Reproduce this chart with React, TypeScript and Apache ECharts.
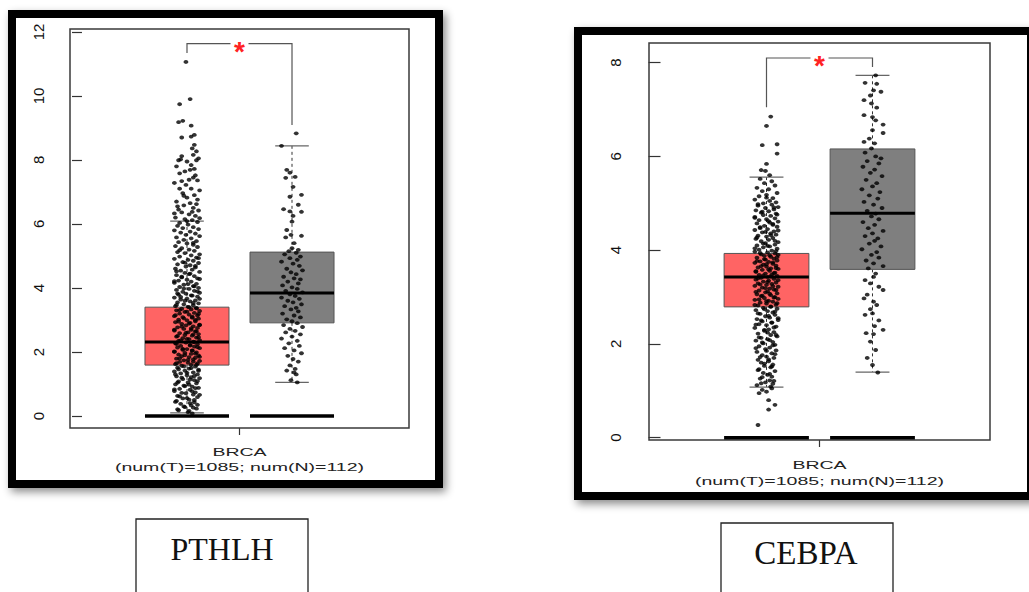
import React, { useEffect, useRef } from "react";
import * as echarts from "echarts";

// ---------- data ----------
const groups = ["Tumor", "Normal"];
const cohortLabel = "BRCA";
const cohortCounts = "(num(T)=1085; num(N)=112)";
const geneNames = ["PTHLH", "CEBPA"];

// [x, lowerWhisker, Q1, median, Q3, upperWhisker]
const pthlhBoxes = [
  [1, 0.1, 1.59, 2.31, 3.4, 6.09],
  [2, 1.05, 2.91, 3.84, 5.12, 8.44],
];
const cebpaBoxes = [
  [1, 1.08, 2.79, 3.43, 3.93, 5.56],
  [2, 1.4, 3.59, 4.79, 6.16, 7.73],
];
// [xLeft, yLeftEnd, yTop, xRight, yRightEnd]
const pthlhBracket = [[1, 11.34, 11.63, 2, 9.09]];
const cebpaBracket = [[1, 7.05, 8.1, 2, 7.91]];
const pthlhTicks = [0, 2, 4, 6, 8, 10, 12];
const cebpaTicks = [0, 2, 4, 6, 8];
const floorValue = 0;

// jittered samples: [jitter, expression]
const pthlhTumor = [
  [-0.01,11.06],[0.03,9.9],[-0.07,9.74],[-0.04,9.22],[-0.08,9.18],[0.04,9.07],[0.07,8.78],[0.04,8.73],[-0.05,8.7],[0.07,8.47],[0.05,8.36],[0.09,8.27],[0.06,8.16],[-0.05,8.12],[-0.08,7.99],[0.0,7.95],[0.09,7.99],[0.04,7.84],[0.03,7.69],[-0.02,7.64],[-0.07,7.58],[0.08,7.52],[0.02,7.38],[-0.05,7.34],[0.1,7.36],[-0.01,7.22],[0.04,7.1],[-0.07,7.1],[-0.04,6.96],[0.07,6.9],[0.0,6.82],[0.1,6.76],[-0.1,6.7],[0.03,6.65],[-0.03,6.58],[0.06,6.5],[-0.08,6.45],[0.11,6.42],[-0.05,6.36],[0.02,6.3],[0.08,6.25],[-0.11,6.2],[-0.02,6.15],[0.05,6.12],[0.1,6.06],[-0.07,6.03],
  [0.11,8.05],[-0.1,7.8],[0.06,7.45],[-0.12,7.28],[0.12,7.05],[-0.03,6.88],[0.09,6.62],[-0.09,6.55],[0.05,6.38],[-0.12,6.33],[0.12,6.18],[0.0,6.09],[0.07,7.72],[-0.06,8.02],
  [0.01,5.98],[-0.09,5.94],[0.06,5.9],[-0.04,5.87],[0.11,5.84],[-0.12,5.8],[0.03,5.76],[-0.06,5.73],[0.08,5.7],[-0.01,5.66],[0.12,5.62],[-0.1,5.58],[0.04,5.55],[-0.03,5.5],[0.09,5.46],[-0.08,5.43],[0.0,5.39],[0.06,5.35],[-0.11,5.31],[0.1,5.28],[-0.05,5.24],[0.02,5.2],[0.07,5.16],[-0.09,5.12],[-0.02,5.09],[0.12,5.05],[0.04,5.02],
  [-0.07,4.98],[0.09,4.95],[-0.12,4.91],[0.01,4.88],[0.06,4.85],[-0.04,4.81],[0.11,4.78],[-0.09,4.74],[0.03,4.71],[-0.01,4.67],[0.08,4.64],[-0.11,4.6],[0.05,4.57],[-0.06,4.54],[0.12,4.5],[-0.02,4.47],[0.02,4.43],[-0.1,4.4],[0.07,4.37],[-0.05,4.33],[0.1,4.3],[0.0,4.26],[-0.08,4.23],[0.04,4.2],[-0.12,4.16],[0.09,4.13],[-0.03,4.1],[0.06,4.06],[-0.07,4.03],[0.11,4.0],
  [0.02,3.97],[-0.1,3.94],[0.07,3.91],[-0.04,3.88],[0.12,3.85],[-0.01,3.82],[-0.08,3.79],[0.05,3.76],[0.1,3.73],[-0.12,3.7],[0.0,3.67],[-0.06,3.64],[0.08,3.61],[0.03,3.58],[-0.09,3.55],[0.11,3.52],[-0.03,3.49],[0.06,3.46],[-0.11,3.43],[0.01,3.41],
  [0.09,3.38],[-0.05,3.35],[0.04,3.33],[-0.1,3.3],[0.12,3.28],[-0.02,3.25],[0.07,3.22],[-0.07,3.2],[0.02,3.17],[0.1,3.14],[-0.12,3.12],[-0.04,3.09],[0.05,3.07],[0.11,3.04],[-0.08,3.01],[0.0,2.99],[0.08,2.96],[-0.11,2.93],[0.03,2.91],[-0.05,2.88],[0.12,2.85],[-0.01,2.83],[0.06,2.8],[-0.09,2.77],[0.1,2.75],[-0.03,2.72],[0.04,2.69],[-0.12,2.67],[0.08,2.64],[0.01,2.61],[-0.07,2.59],[0.11,2.56],[-0.02,2.53],[0.05,2.51],[-0.1,2.48],[0.09,2.45],[-0.04,2.43],[0.02,2.4],[0.12,2.37],[-0.08,2.35],[0.06,2.32],
  [-0.01,2.29],[-0.11,2.27],[0.1,2.24],[0.03,2.22],[-0.06,2.19],[0.07,2.17],[-0.09,2.14],[0.12,2.12],[0.0,2.09],[-0.04,2.07],[0.05,2.04],[-0.12,2.02],[0.09,1.99],[-0.02,1.97],[0.04,1.94],[-0.08,1.92],[0.11,1.89],[-0.05,1.87],[0.02,1.84],[0.08,1.82],[-0.1,1.79],[0.06,1.77],[-0.03,1.74],[0.12,1.72],[-0.07,1.69],[0.01,1.67],[0.1,1.64],[-0.11,1.62],[0.04,1.6],
  [-0.05,1.57],[0.08,1.54],[-0.09,1.51],[0.02,1.48],[0.11,1.45],[-0.02,1.42],[-0.12,1.39],[0.06,1.36],[-0.06,1.33],[0.1,1.3],[0.0,1.27],[-0.1,1.24],[0.04,1.21],[0.12,1.18],[-0.04,1.15],[0.07,1.12],[-0.08,1.08],[0.01,1.05],[0.09,1.02],[-0.11,0.99],[-0.03,0.95],[0.05,0.92],[0.11,0.88],[-0.07,0.85],[0.03,0.82],[-0.12,0.78],[0.08,0.74],[-0.01,0.71],[0.06,0.67],[-0.09,0.63],[0.1,0.59],[-0.04,0.55],[0.02,0.51],[-0.1,0.47],[0.07,0.43],[-0.06,0.38],[0.04,0.33],[-0.02,0.28],[0.09,0.23],[-0.08,0.18],[0.01,0.12],[0.05,0.08],
  [0.06,5.41],[-0.07,5.18],[0.11,4.93],[-0.02,4.79],[0.08,4.69],[-0.1,4.52],[0.03,4.45],[-0.05,4.35],[0.12,4.28],[-0.12,4.21],[0.01,4.12],[0.07,4.05],[-0.03,3.98],[0.1,3.89],[-0.09,3.83],[0.04,3.77],[-0.06,3.72],[0.12,3.66],[-0.02,3.6],[0.06,3.53],[-0.1,3.47],[0.02,3.4],[0.09,3.36],[-0.07,3.31],[0.0,3.26],[0.11,3.19],[-0.11,3.15],[0.05,3.1],[-0.03,3.05],[0.08,3.0],[-0.08,2.95],[0.02,2.89],[0.12,2.84],[-0.05,2.79],[0.04,2.74],[-0.12,2.7],[0.09,2.65],[-0.01,2.6],[0.06,2.55],[-0.09,2.5],[0.11,2.46],[0.0,2.41],[-0.06,2.36],[0.07,2.31],[-0.1,2.25],[0.03,2.2],[0.1,2.15],[-0.04,2.1],[0.05,2.05],[-0.12,2.0],[0.08,1.95],[-0.02,1.9],[0.12,1.85],[-0.07,1.8],[0.01,1.75],[0.06,1.7],[-0.1,1.65],[0.09,1.6],[-0.03,1.55],[0.04,1.5],[-0.08,1.46],[0.11,1.41],[0.0,1.35],[-0.11,1.3],[0.07,1.25],[-0.05,1.2],[0.03,1.14],[0.1,1.09],[-0.09,1.04],[0.02,0.98],[-0.02,0.93],[0.08,0.87],[-0.12,0.83],[0.05,0.77],[-0.05,0.72],[0.12,0.66],[-0.07,0.61],[0.0,0.56],[0.07,0.5],[-0.11,0.44],[0.03,0.4],[0.1,0.35],[-0.03,0.3],[0.06,0.26],[-0.09,0.21],[0.02,0.16],
];
const pthlhNormal = [
  [0.04,8.83],[-0.1,8.44],[-0.05,7.69],[-0.02,7.6],[0.03,7.47],[-0.06,7.44],[0.01,7.16],[0.09,6.91],[-0.02,6.85],[0.06,6.6],[-0.08,6.46],[-0.02,6.39],[0.09,6.38],[0.01,6.25],[0.0,6.07],[-0.05,5.81],[-0.01,5.66],[0.09,5.63],[-0.06,5.58],[0.02,5.4],[0.0,5.24],[0.06,5.19],[-0.03,5.15],[0.04,5.1],[-0.07,5.05],[0.08,4.98],[-0.02,4.93],[0.05,4.88],[-0.1,4.82],[0.01,4.76],[0.07,4.69],[-0.05,4.6],[0.1,4.55],[-0.01,4.49],[0.04,4.43],[-0.08,4.35],[0.02,4.3],[0.08,4.27],[-0.04,4.2],[0.06,4.14],[-0.09,4.08],[0.0,4.02],[0.05,3.97],[-0.06,3.91],[0.1,3.86],[-0.02,3.8],[0.03,3.75],[-0.1,3.7],[0.07,3.66],[-0.04,3.6],[0.01,3.55],[0.09,3.49],[-0.07,3.43],[0.04,3.38],[-0.01,3.33],[0.06,3.27],[-0.09,3.2],[0.02,3.14],[0.08,3.08],[-0.05,3.02],[0.0,2.96],[0.05,2.9],[-0.08,2.84],[0.1,2.78],[-0.02,2.72],[0.03,2.66],[-0.06,2.61],[0.08,2.55],[0.0,2.48],[-0.1,2.42],[0.05,2.35],[-0.03,2.27],[0.07,2.19],[-0.07,2.12],[0.02,2.05],[0.09,1.96],[-0.04,1.88],[0.01,1.78],[0.06,1.7],[-0.02,1.58],[0.03,1.47],[-0.05,1.42],[0.02,1.36],[0.04,1.3],[-0.01,1.12],[0.05,1.05],
];
const cebpaTumor = [
  [0.04,6.85],[0.0,6.65],[-0.04,6.24],[0.1,6.26],[0.1,6.06],[0.0,5.84],[-0.05,5.71],[-0.01,5.69],[0.03,5.6],
  [-0.06,5.52],[0.05,5.47],[-0.02,5.43],[0.08,5.38],[-0.09,5.33],[0.02,5.3],[-0.04,5.26],[0.1,5.22],[0.0,5.18],[-0.07,5.15],[0.06,5.11],[-0.11,5.08],[0.03,5.05],[0.09,5.02],[-0.03,5.0],
  [0.05,4.97],[-0.08,4.95],[0.11,4.92],[-0.01,4.9],[0.07,4.87],[-0.1,4.85],[0.02,4.83],[-0.05,4.8],[0.09,4.78],[-0.03,4.75],[0.04,4.73],[-0.11,4.71],[0.08,4.68],[0.0,4.66],[-0.07,4.64],[0.11,4.61],[0.03,4.59],[-0.09,4.57],[0.06,4.54],[-0.02,4.52],[0.1,4.5],[-0.06,4.47],[0.01,4.45],[-0.11,4.43],[0.07,4.4],[-0.04,4.38],[0.04,4.36],[0.09,4.33],[-0.08,4.31],[0.0,4.29],[0.06,4.26],[-0.1,4.24],[0.02,4.22],[-0.05,4.19],[0.11,4.17],[-0.01,4.15],[0.08,4.12],[-0.09,4.1],[0.03,4.08],[-0.03,4.06],[0.1,4.03],[-0.07,4.01],
  [0.05,3.99],[-0.11,3.97],[0.01,3.95],[0.08,3.93],[-0.05,3.91],[0.11,3.9],[-0.02,3.88],[0.04,3.86],[-0.09,3.84],[0.07,3.82],[-0.01,3.8],[0.1,3.78],[-0.06,3.76],[0.02,3.75],[-0.11,3.73],[0.06,3.71],[-0.03,3.69],[0.09,3.67],[0.0,3.65],[-0.08,3.63],[0.04,3.61],[0.11,3.6],[-0.04,3.58],[0.03,3.56],[-0.1,3.54],[0.08,3.52],[-0.01,3.5],[0.05,3.48],[-0.07,3.47],[0.1,3.45],[0.01,3.43],[-0.05,3.41],
  [0.07,3.39],[-0.1,3.37],[0.02,3.35],[-0.03,3.33],[0.09,3.31],[-0.08,3.29],[0.05,3.28],[0.0,3.26],[-0.11,3.24],[0.11,3.22],[-0.04,3.2],[0.03,3.18],[0.07,3.16],[-0.07,3.14],[0.01,3.12],[-0.01,3.1],[0.1,3.08],[-0.09,3.06],[0.04,3.04],[-0.05,3.02],[0.08,3.0],[-0.02,2.98],[0.11,2.96],[-0.11,2.94],[0.02,2.92],[0.06,2.9],[-0.06,2.88],[0.0,2.86],[0.09,2.84],[-0.08,2.82],[0.04,2.8],
  [-0.03,2.77],[0.1,2.75],[-0.1,2.72],[0.01,2.7],[0.06,2.67],[-0.06,2.64],[0.08,2.62],[-0.01,2.59],[0.03,2.56],[-0.09,2.53],[0.11,2.51],[-0.04,2.48],[0.05,2.45],[-0.07,2.42],[0.0,2.4],[0.09,2.37],[-0.11,2.34],[0.02,2.31],[-0.02,2.28],[0.07,2.25],[-0.08,2.22],[0.04,2.19],[0.1,2.16],[-0.05,2.13],[0.01,2.1],[-0.1,2.07],[0.06,2.04],[-0.03,2.01],[0.08,1.98],[-0.07,1.95],[0.03,1.92],[-0.01,1.89],[0.09,1.86],[-0.09,1.83],[0.05,1.8],[-0.04,1.76],[0.0,1.73],[0.07,1.7],[-0.08,1.66],[0.02,1.63],[-0.05,1.6],[0.06,1.56],[-0.02,1.53],[0.04,1.5],[-0.07,1.46],[0.08,1.42],[-0.03,1.38],[0.01,1.34],[0.05,1.3],[-0.06,1.26],[0.03,1.22],[-0.01,1.18],[0.06,1.15],
  [-0.09,1.12],[0.04,1.09],[0.05,1.05],[-0.04,1.02],[0.0,0.98],[-0.07,0.95],[0.02,0.8],[0.08,0.7],[0.02,0.6],[-0.08,0.27],
  [0.0,5.12],[-0.08,4.98],[0.07,4.91],[-0.04,4.82],[0.1,4.76],[-0.11,4.69],[0.02,4.62],[0.06,4.56],[-0.06,4.49],[0.11,4.42],[-0.01,4.39],[0.04,4.32],[-0.09,4.27],[0.08,4.2],[-0.03,4.14],[0.01,4.09],[-0.11,4.04],[0.09,3.98],[-0.06,3.94],[0.03,3.89],[0.1,3.85],[-0.02,3.81],[-0.09,3.77],[0.06,3.74],[0.0,3.7],[-0.05,3.66],[0.09,3.62],[0.02,3.59],[-0.1,3.55],[0.07,3.51],[-0.03,3.46],[0.04,3.44],[-0.08,3.4],[0.11,3.36],[0.01,3.32],[-0.06,3.27],[0.06,3.23],[-0.01,3.19],[0.09,3.15],[-0.1,3.11],[0.03,3.07],[-0.04,3.03],[0.07,2.99],[-0.07,2.95],[0.0,2.91],[0.1,2.87],[-0.11,2.83],[0.04,2.79],[-0.02,2.74],[0.08,2.69],[-0.08,2.65],[0.02,2.6],[0.11,2.55],[-0.05,2.5],[0.05,2.46],[-0.1,2.41],[0.07,2.35],[-0.02,2.3],[0.01,2.24],[0.09,2.19],[-0.07,2.14],[0.03,2.08],[-0.04,2.03],[0.06,1.97],[-0.1,1.91],[0.0,1.85],[0.08,1.78],[-0.06,1.72],[0.02,1.67],[-0.02,1.58],[0.05,1.52],[-0.08,1.44],[0.03,1.36],[-0.04,1.29],[0.07,1.21],[-0.05,1.16],
];
const cebpaNormal = [
  [0.03,7.73],[-0.07,7.57],[0.04,7.55],[0.01,7.41],[0.08,7.38],[-0.02,7.3],[-0.08,7.2],[-0.01,7.13],[0.04,7.04],[-0.08,6.88],[0.0,6.84],[0.03,6.77],[0.1,6.68],[0.0,6.56],[0.1,6.5],[-0.03,6.38],[-0.08,6.31],[0.02,6.28],[-0.01,6.17],
  [-0.07,6.08],[0.03,6.0],[0.08,5.96],[-0.05,5.9],[0.06,5.85],[-0.09,5.78],[0.02,5.72],[-0.02,5.65],[0.09,5.58],[-0.06,5.5],[0.04,5.43],[0.0,5.36],[-0.1,5.3],[0.07,5.24],[-0.03,5.17],[0.05,5.1],[-0.08,5.03],[0.01,4.97],[0.09,4.9],[-0.05,4.84],[0.03,4.78],[-0.01,4.72],[0.06,4.66],[-0.09,4.6],[0.02,4.54],[-0.04,4.47],[0.1,4.41],[0.0,4.36],[-0.07,4.3],[0.05,4.25],[0.02,4.2],[-0.03,4.14],[0.08,4.08],[-0.1,4.02],[0.04,3.96],[-0.01,3.9],[0.06,3.84],[-0.06,3.78],[0.01,3.72],[0.1,3.66],[-0.04,3.61],
  [0.03,3.5],[0.01,3.43],[-0.07,3.36],[-0.02,3.29],[0.06,3.22],[0.1,3.15],[-0.05,3.05],[-0.08,2.97],[0.01,2.9],[0.04,2.83],[-0.02,2.74],[0.0,2.65],[-0.07,2.62],[0.06,2.5],[0.02,2.38],[0.1,2.3],[-0.06,2.23],[0.01,2.21],[-0.02,2.05],[0.03,1.87],[-0.05,1.7],[0.0,1.55],[0.05,1.39],
];

// ---------- styling ----------
const boxFills = ["#FF6464", "#7F7F7F"];
const BOX_HALF = 0.4;
const CAP_HALF = 0.16;
const DOT: [number, number] = [4.8, 3.8];
const SANS = "Liberation Sans, Arial, sans-serif";
const SERIF = "Liberation Serif, Times New Roman, serif";

const renderBox = (params: any, api: any) => {
  const x = api.value(0);
  const lo = api.value(1);
  const q1 = api.value(2);
  const med = api.value(3);
  const q3 = api.value(4);
  const hi = api.value(5);
  const c = (a: number, b: number) => api.coord([a, b]);
  const tl = c(x - BOX_HALF, q3);
  const br = c(x + BOX_HALF, q1);
  const mid = c(x, med);
  const hiP = c(x, hi);
  const loP = c(x, lo);
  const capL = c(x - CAP_HALF, hi)[0];
  const capR = c(x + CAP_HALF, hi)[0];
  const z0 = c(x, floorValue)[1];
  const dashStyle = { stroke: "#333", lineWidth: 1, lineDash: [3, 3] };
  const capStyle = { stroke: "#666", lineWidth: 1.2 };
  return {
    type: "group",
    children: [
      { type: "line", shape: { x1: hiP[0], y1: hiP[1], x2: hiP[0], y2: tl[1] }, style: dashStyle },
      { type: "line", shape: { x1: loP[0], y1: br[1], x2: loP[0], y2: loP[1] }, style: dashStyle },
      { type: "line", shape: { x1: capL, y1: hiP[1], x2: capR, y2: hiP[1] }, style: capStyle },
      { type: "line", shape: { x1: capL, y1: loP[1], x2: capR, y2: loP[1] }, style: capStyle },
      {
        type: "rect",
        shape: { x: tl[0], y: tl[1], width: br[0] - tl[0], height: br[1] - tl[1] },
        style: { fill: boxFills[params.dataIndex], stroke: "#555", lineWidth: 1 },
      },
      { type: "line", shape: { x1: tl[0], y1: mid[1], x2: br[0], y2: mid[1] }, style: { stroke: "#000", lineWidth: 3 } },
      { type: "line", shape: { x1: tl[0], y1: z0, x2: br[0], y2: z0 }, style: { stroke: "#000", lineWidth: 3.5 } },
    ],
  };
};

const renderBracket = (_params: any, api: any) => {
  const a = api.coord([api.value(0), api.value(1)]);
  const b = api.coord([api.value(0), api.value(2)]);
  const c2 = api.coord([api.value(3), api.value(2)]);
  const d = api.coord([api.value(3), api.value(4)]);
  const m = (b[0] + c2[0]) / 2;
  const gap = 9;
  const st = { stroke: "#555", lineWidth: 1.2, fill: null };
  return {
    type: "group",
    children: [
      { type: "polyline", shape: { points: [a, b, [m - gap, b[1]]] }, style: st },
      { type: "polyline", shape: { points: [[m + gap, b[1]], c2, d] }, style: st },
      {
        type: "text",
        x: m,
        y: b[1] + 8,
        style: { text: "*", fill: "#FF2222", fontSize: 28, fontWeight: "bold", fontFamily: SANS, align: "center", verticalAlign: "middle" },
      },
    ],
  };
};

const jitter = (pts: number[][], base: number) => pts.map(([dx, y]) => [base + dx, y]);

export default function App() {
  const ref = useRef<HTMLDivElement>(null);
  useEffect(() => {
    if (!ref.current) return;
    const chart = echarts.init(ref.current, undefined, { renderer: "svg" });

    const grids = [
      { left: 70, top: 29, width: 339, height: 399, show: true, borderColor: "#3a3a3a", borderWidth: 1.5, backgroundColor: "transparent", z: 1 },
      { left: 649, top: 43, width: 341, height: 397, show: true, borderColor: "#3a3a3a", borderWidth: 1.5, backgroundColor: "transparent", z: 1 },
    ];
    const valueX = (gi: number, min: number, max: number) => ({
      type: "value", gridIndex: gi, min, max, show: false,
    });
    const catX = (gi: number) => ({
      type: "category", gridIndex: gi, data: [cohortLabel], position: "bottom",
      axisLine: { show: false }, axisLabel: { show: false },
      axisTick: { show: true, alignWithLabel: true, length: 7, lineStyle: { color: "#333", width: 1.2 } },
    });
    const yAx = (gi: number, min: number, max: number, ticks: number[], tickLen: number, margin: number) => ({
      type: "value", gridIndex: gi, min, max,
      axisLine: { show: false }, splitLine: { show: false },
      axisTick: { show: true, customValues: ticks, length: tickLen, lineStyle: { color: "#333", width: 1.2 } },
      axisLabel: { show: true, customValues: ticks, rotate: 90, margin, fontSize: 15, color: "#111", fontFamily: SANS },
    });

    const option: any = {
      animation: false,
      backgroundColor: "#fff",
      grid: grids,
      xAxis: [valueX(0, -0.114, 3.114), catX(0), valueX(1, -0.1085, 3.1085), catX(1)],
      yAxis: [yAx(0, -0.375, 12.09, pthlhTicks, 10, 24), yAx(1, -0.05, 8.42, cebpaTicks, 12, 26)],
      series: [
        { type: "custom", name: "PTHLH box", xAxisIndex: 0, yAxisIndex: 0, data: pthlhBoxes, renderItem: renderBox, z: 2, silent: true, encode: { x: 0, y: [1, 2, 3, 4, 5] } },
        { type: "scatter", name: "PTHLH samples", xAxisIndex: 0, yAxisIndex: 0, data: [...jitter(pthlhTumor, 1), ...jitter(pthlhNormal, 2)], symbol: "circle", symbolSize: DOT, itemStyle: { color: "#000" }, z: 3, silent: true },
        { type: "custom", name: "PTHLH sig", xAxisIndex: 0, yAxisIndex: 0, data: pthlhBracket, renderItem: renderBracket, z: 4, silent: true, encode: { x: [0, 3], y: [1, 2, 4] } },
        { type: "custom", name: "CEBPA box", xAxisIndex: 2, yAxisIndex: 1, data: cebpaBoxes, renderItem: renderBox, z: 2, silent: true, encode: { x: 0, y: [1, 2, 3, 4, 5] } },
        { type: "scatter", name: "CEBPA samples", xAxisIndex: 2, yAxisIndex: 1, data: [...jitter(cebpaTumor, 1), ...jitter(cebpaNormal, 2)], symbol: "circle", symbolSize: DOT, itemStyle: { color: "#000" }, z: 3, silent: true },
        { type: "custom", name: "CEBPA sig", xAxisIndex: 2, yAxisIndex: 1, data: cebpaBracket, renderItem: renderBracket, z: 4, silent: true, encode: { x: [0, 3], y: [1, 2, 4] } },
      ],
      graphic: [
        {
          type: "rect", z: -10, shape: { x: 12, y: 14, width: 427, height: 470 },
          style: { fill: "#fff", stroke: "#000", lineWidth: 8, shadowBlur: 8, shadowColor: "rgba(0,0,0,0.45)", shadowOffsetX: 3, shadowOffsetY: 4 },
        },
        {
          type: "rect", z: -10, shape: { x: 578, y: 31, width: 453, height: 465 },
          style: { fill: "#fff", stroke: "#000", lineWidth: 8, shadowBlur: 8, shadowColor: "rgba(0,0,0,0.45)", shadowOffsetX: 3, shadowOffsetY: 4 },
        },
        { type: "text", x: 239.5, y: 452, scaleX: 1.7, z: 5, style: { text: cohortLabel, fontSize: 11.5, fontFamily: SANS, fill: "#222", align: "center", verticalAlign: "middle" } },
        { type: "text", x: 239.5, y: 467, scaleX: 1.7, z: 5, style: { text: cohortCounts, fontSize: 11.5, fontFamily: SANS, fill: "#222", align: "center", verticalAlign: "middle" } },
        { type: "text", x: 819.5, y: 465, scaleX: 1.7, z: 5, style: { text: cohortLabel, fontSize: 11.5, fontFamily: SANS, fill: "#222", align: "center", verticalAlign: "middle" } },
        { type: "text", x: 819.5, y: 481, scaleX: 1.7, z: 5, style: { text: cohortCounts, fontSize: 11.5, fontFamily: SANS, fill: "#222", align: "center", verticalAlign: "middle" } },
        { type: "rect", z: 5, shape: { x: 136, y: 519, width: 172, height: 100 }, style: { fill: "none", stroke: "#222", lineWidth: 1.3 } },
        { type: "text", x: 222, y: 549, z: 5, style: { text: geneNames[0], fontSize: 32, fontFamily: SERIF, fill: "#111", align: "center", verticalAlign: "middle" } },
        { type: "rect", z: 5, shape: { x: 721, y: 523, width: 172, height: 100 }, style: { fill: "none", stroke: "#222", lineWidth: 1.3 } },
        { type: "text", x: 806, y: 553, z: 5, style: { text: geneNames[1], fontSize: 33, fontFamily: SERIF, fill: "#111", align: "center", verticalAlign: "middle" } },
      ],
    };
    chart.setOption(option);
    return () => chart.dispose();
  }, []);
  return (
    <div
      ref={ref}
      data-groups={groups.join(",")}
      style={{ position: "fixed", left: 0, top: 0, width: 1029, height: 592, background: "#fff" }}
    />
  );
}
